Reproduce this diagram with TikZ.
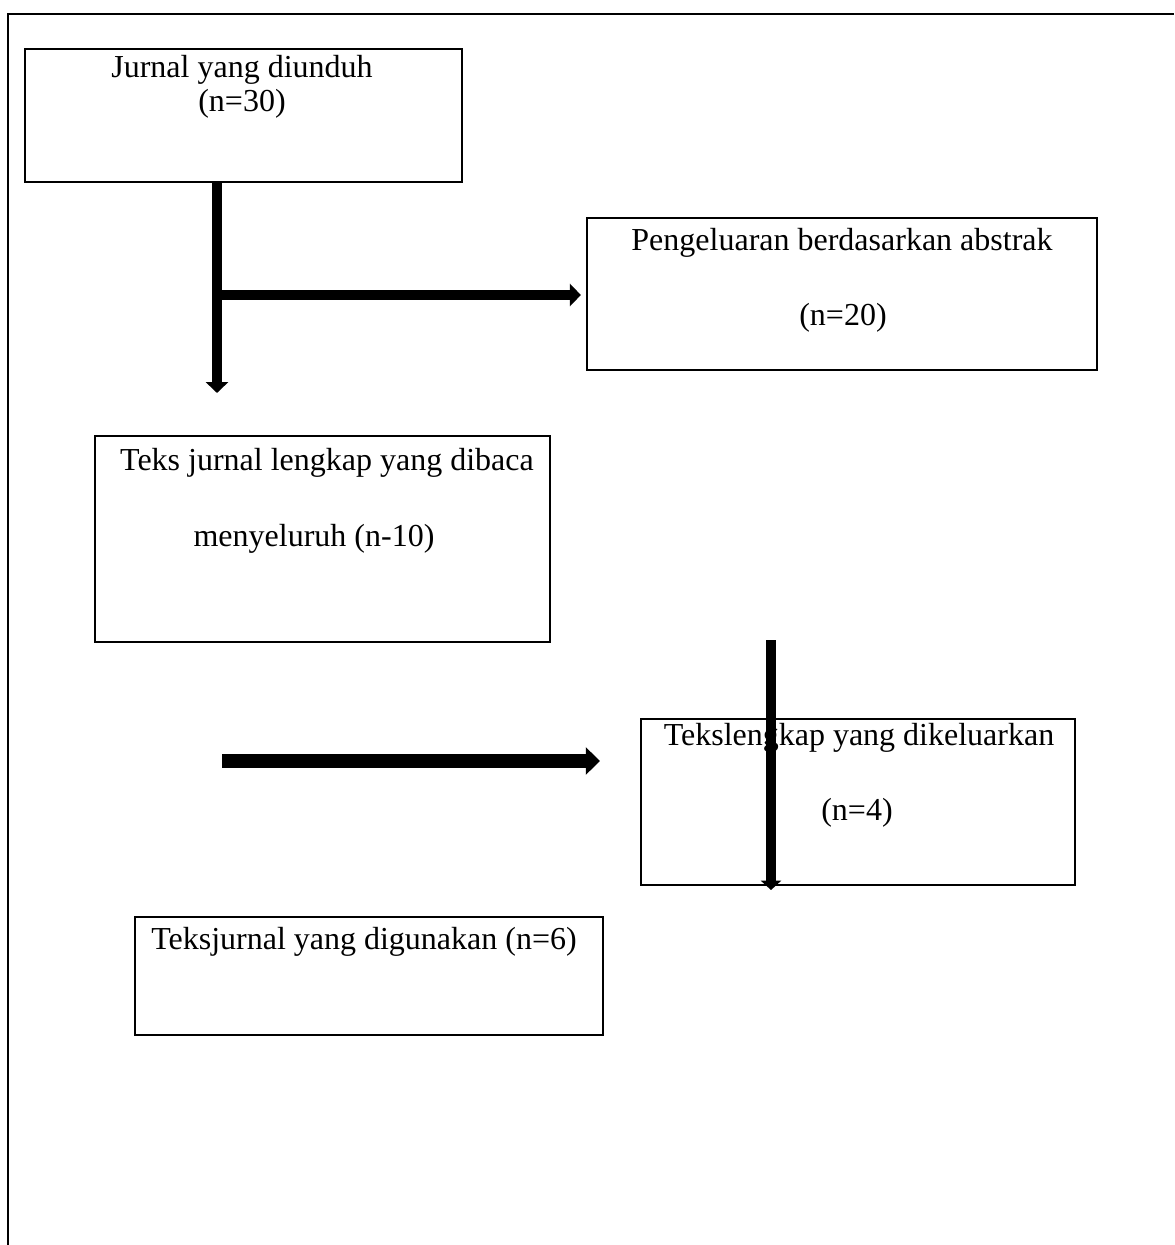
\documentclass[tikz,border=0pt]{standalone}
\usepackage{fontspec}
\setmainfont{Liberation Serif}
\usetikzlibrary{arrows.meta,fit,positioning}
\colorlet{penColor}{black}
\tikzset{
  box/.style={draw=penColor, line width=0.8pt, inner sep=0pt},
  boxtext/.style={anchor=base, inner sep=0pt, text=penColor},
  bigarrow/.style={penColor, line width=#1},
}

\begin{document}
\begin{tikzpicture}[x=0.375pt, y=-0.375pt, font=\fontsize{12}{14}\selectfont]
				\useasboundingbox (0,0) rectangle (1174,1245);
				% frame
				\draw[penColor, line width=0.75pt] (8,1245) -- (8,14) -- (1174,14);
				% boxes
				\node[box, fit={(25,49) (462,182)}] (unduh) {};
				\node[box, fit={(587,218) (1097,370)}] (abstrak) {};
				\node[box, fit={(95,436) (550,642)}] (lengkap) {};
				\node[box, fit={(641,719) (1075,885)}] (keluar) {};
				\node[box, fit={(135,917) (603,1035)}] (guna) {};
				% texts
				\node[boxtext] (unduhA) at (242,78) {Jurnal yang diunduh};
				\node[boxtext] (unduhB) at (242,112) {(n=30)};
				\node[boxtext] (abstrakA) at (842,250) {Pengeluaran berdasarkan abstrak};
				\node[boxtext] (abstrakB) at (843,325) {(n=20)};
				\node[boxtext] (lengkapA) at (327,470) {Teks jurnal lengkap yang dibaca};
				\node[boxtext] (lengkapB) at (314,546) {menyeluruh (n-10)};
				\node[boxtext] (keluarA) at (859,745) {Tekslengkap yang dikeluarkan};
				\node[boxtext] (keluarB) at (857,820) {(n=4)};
				\node[boxtext] (gunaA) at (364,949) {Teksjurnal yang digunakan (n=6)};
				% arrows
				\coordinate (cabang) at (217,295);
				\coordinate (ujung) at (217,393);
				\draw[bigarrow=3.75pt, -{Triangle[width=8.25pt,length=4.1pt]}] (unduh.south -| cabang) -- (ujung);
				\draw[bigarrow=4.1pt, -{Triangle[width=8.25pt,length=4.1pt]}, shorten >=1.9pt] (cabang) -- (cabang -| abstrak.west);
				\coordinate (kiri) at (222,761);
				\coordinate (kanan) at (600,761);
				\draw[bigarrow=5pt, -{Triangle[width=10pt,length=5.3pt]}] (kiri) -- (kanan);
				\coordinate (atas) at (771,640);
				\coordinate (bawah) at (771,890);
				\draw[bigarrow=3.75pt, -{Triangle[width=7.5pt,length=3.5pt]}] (atas) -- (bawah);
\end{tikzpicture}
\end{document}
